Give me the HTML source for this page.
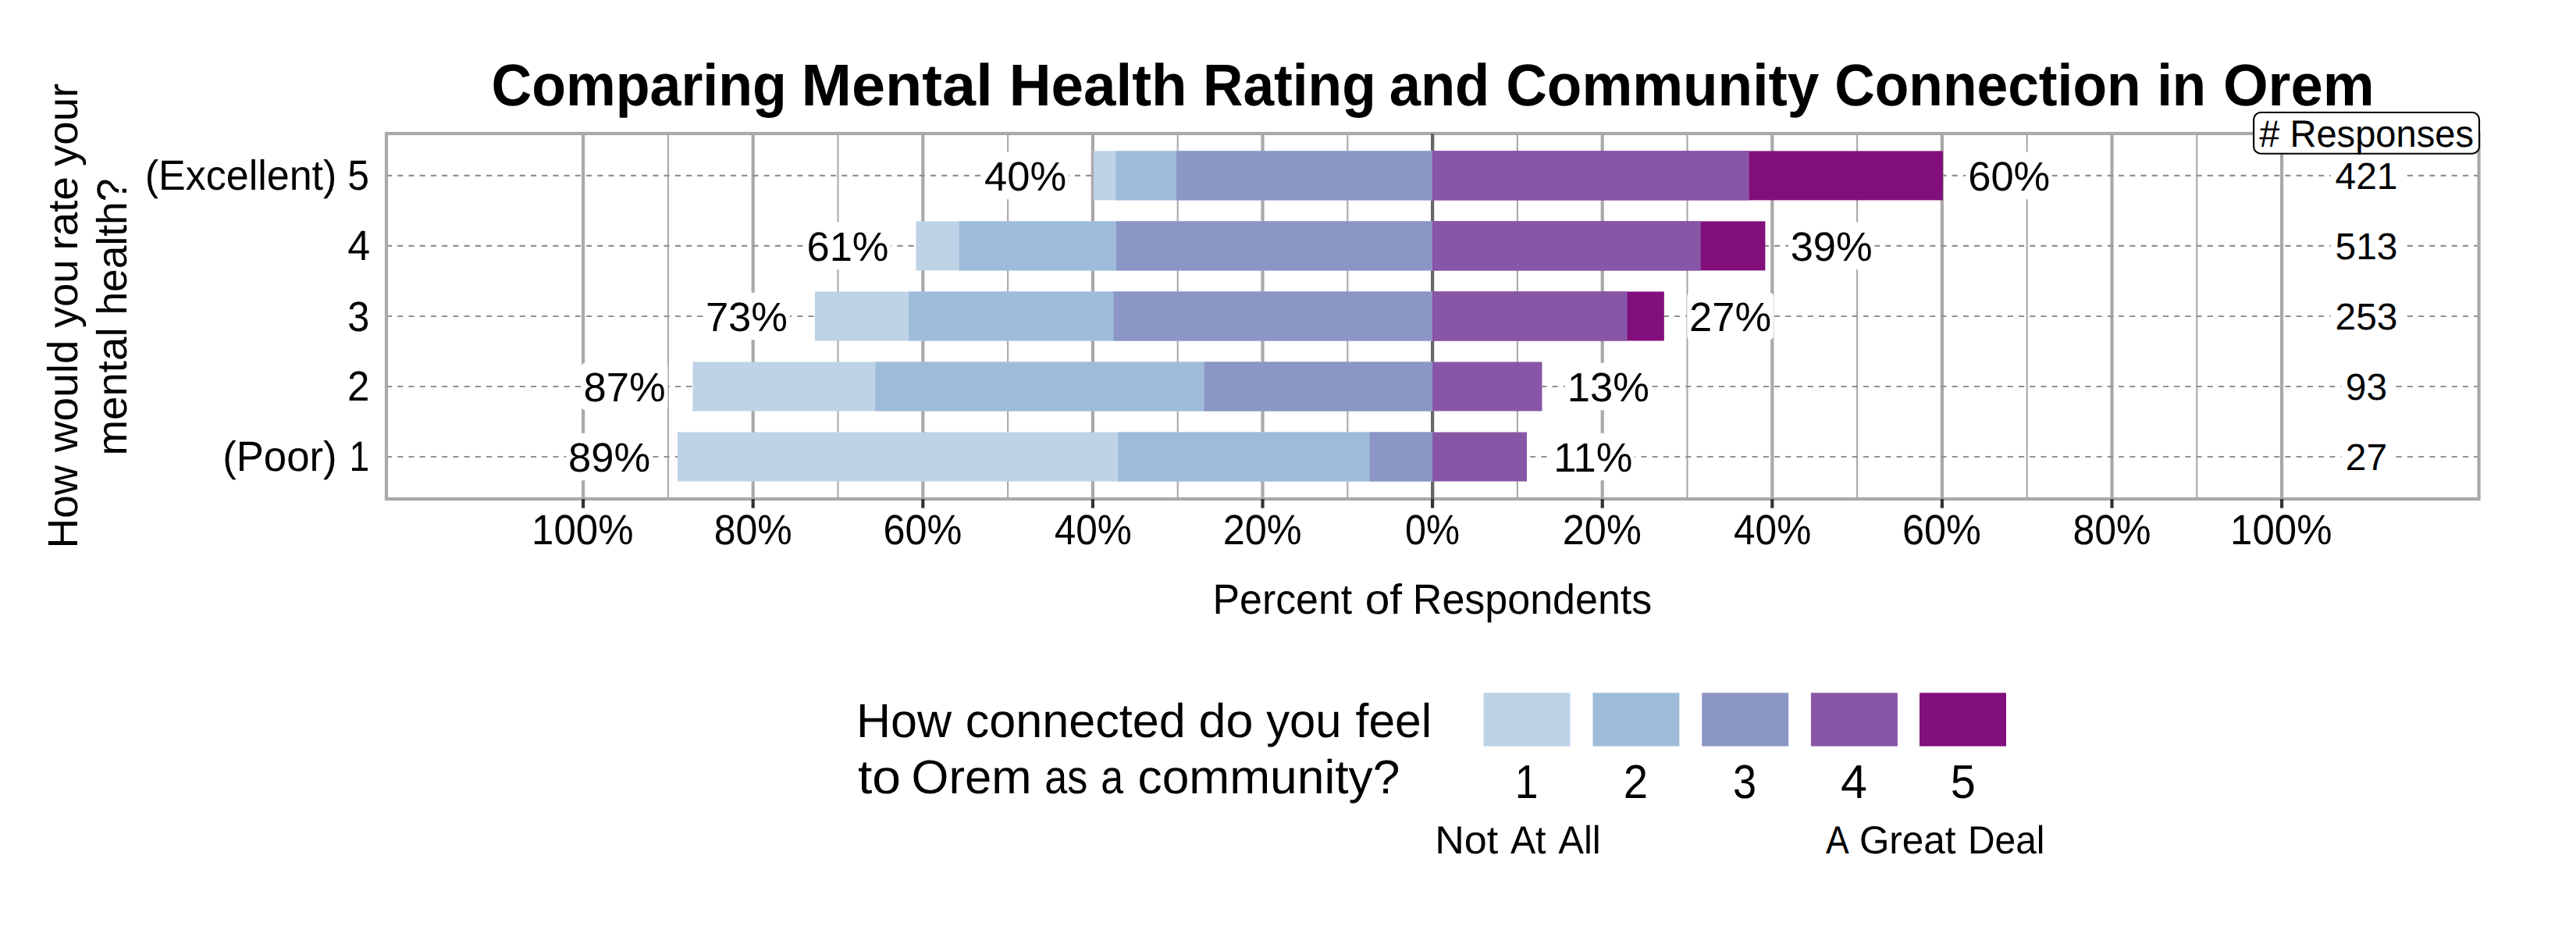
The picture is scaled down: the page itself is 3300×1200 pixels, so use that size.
<!DOCTYPE html>
<html lang="en"><head><meta charset="utf-8"><title>Comparing Mental Health Rating and Community Connection in Orem</title>
<style>html,body{margin:0;padding:0;background:#fff;overflow:hidden}svg{display:block}text{white-space:pre}</style></head>
<body>
<svg width="3300" height="1200" viewBox="0 0 3300 1200">
<rect width="3300" height="1200" fill="#fff"/>
<g><line x1="747.10" x2="747.10" y1="171" y2="639" stroke="#a9a9a9" stroke-width="4.2"/><line x1="855.90" x2="855.90" y1="171" y2="639" stroke="#a9a9a9" stroke-width="2.1"/><line x1="964.70" x2="964.70" y1="171" y2="639" stroke="#a9a9a9" stroke-width="4.2"/><line x1="1073.50" x2="1073.50" y1="171" y2="639" stroke="#a9a9a9" stroke-width="2.1"/><line x1="1182.30" x2="1182.30" y1="171" y2="639" stroke="#a9a9a9" stroke-width="4.2"/><line x1="1291.10" x2="1291.10" y1="171" y2="639" stroke="#a9a9a9" stroke-width="2.1"/><line x1="1399.90" x2="1399.90" y1="171" y2="639" stroke="#a9a9a9" stroke-width="4.2"/><line x1="1508.70" x2="1508.70" y1="171" y2="639" stroke="#a9a9a9" stroke-width="2.1"/><line x1="1617.50" x2="1617.50" y1="171" y2="639" stroke="#a9a9a9" stroke-width="4.2"/><line x1="1726.30" x2="1726.30" y1="171" y2="639" stroke="#a9a9a9" stroke-width="2.1"/><line x1="1943.90" x2="1943.90" y1="171" y2="639" stroke="#a9a9a9" stroke-width="2.1"/><line x1="2052.70" x2="2052.70" y1="171" y2="639" stroke="#a9a9a9" stroke-width="4.2"/><line x1="2161.50" x2="2161.50" y1="171" y2="639" stroke="#a9a9a9" stroke-width="2.1"/><line x1="2270.30" x2="2270.30" y1="171" y2="639" stroke="#a9a9a9" stroke-width="4.2"/><line x1="2379.10" x2="2379.10" y1="171" y2="639" stroke="#a9a9a9" stroke-width="2.1"/><line x1="2487.90" x2="2487.90" y1="171" y2="639" stroke="#a9a9a9" stroke-width="4.2"/><line x1="2596.70" x2="2596.70" y1="171" y2="639" stroke="#a9a9a9" stroke-width="2.1"/><line x1="2705.50" x2="2705.50" y1="171" y2="639" stroke="#a9a9a9" stroke-width="4.2"/><line x1="2814.30" x2="2814.30" y1="171" y2="639" stroke="#a9a9a9" stroke-width="2.1"/><line x1="2923.10" x2="2923.10" y1="171" y2="639" stroke="#a9a9a9" stroke-width="4.2"/></g>
<line x1="495" x2="3175.6" y1="224.9" y2="224.9" stroke="#929292" stroke-width="2.1" stroke-dasharray="7.11 7.1145"/>
<line x1="495" x2="3175.6" y1="314.9" y2="314.9" stroke="#929292" stroke-width="2.1" stroke-dasharray="7.11 7.1145"/>
<line x1="495" x2="3175.6" y1="404.95" y2="404.95" stroke="#929292" stroke-width="2.1" stroke-dasharray="7.11 7.1145"/>
<line x1="495" x2="3175.6" y1="495" y2="495" stroke="#929292" stroke-width="2.1" stroke-dasharray="7.11 7.1145"/>
<line x1="495" x2="3175.6" y1="585" y2="585" stroke="#929292" stroke-width="2.1" stroke-dasharray="7.11 7.1145"/>
<line x1="1835.10" x2="1835.10" y1="171" y2="639" stroke="#666666" stroke-width="4.2"/>
<rect x="1400.93" y="193.4" width="434.57" height="63" fill="#bfd3e6"/>
<rect x="1429.36" y="193.4" width="406.14" height="63" fill="#9ebcda"/>
<rect x="1506.89" y="193.4" width="328.61" height="63" fill="#8c96c6"/>
<rect x="1835.10" y="193.4" width="653.83" height="63" fill="#810f7c"/>
<rect x="1835.10" y="193.4" width="405.74" height="63" fill="#8856a7"/>
<rect x="1173.39" y="283.4" width="662.11" height="63" fill="#bfd3e6"/>
<rect x="1228.53" y="283.4" width="606.97" height="63" fill="#9ebcda"/>
<rect x="1430.02" y="283.4" width="405.48" height="63" fill="#8c96c6"/>
<rect x="1835.10" y="283.4" width="426.29" height="63" fill="#810f7c"/>
<rect x="1835.10" y="283.4" width="343.58" height="63" fill="#8856a7"/>
<rect x="1043.83" y="373.45" width="791.67" height="63" fill="#bfd3e6"/>
<rect x="1164.24" y="373.45" width="671.26" height="63" fill="#9ebcda"/>
<rect x="1426.56" y="373.45" width="408.94" height="63" fill="#8c96c6"/>
<rect x="1835.10" y="373.45" width="296.73" height="63" fill="#810f7c"/>
<rect x="1835.10" y="373.45" width="249.42" height="63" fill="#8856a7"/>
<rect x="887.49" y="463.5" width="948.01" height="63" fill="#bfd3e6"/>
<rect x="1121.47" y="463.5" width="714.03" height="63" fill="#9ebcda"/>
<rect x="1542.63" y="463.5" width="292.87" height="63" fill="#8c96c6"/>
<rect x="1835.10" y="463.5" width="140.39" height="63" fill="#8856a7"/>
<rect x="867.99" y="553.5" width="967.51" height="63" fill="#bfd3e6"/>
<rect x="1432.14" y="553.5" width="403.36" height="63" fill="#9ebcda"/>
<rect x="1754.51" y="553.5" width="80.99" height="63" fill="#8c96c6"/>
<rect x="1835.10" y="553.5" width="120.89" height="63" fill="#8856a7"/>
<rect x="495" y="171" width="2680.6" height="468" fill="none" stroke="#a9a9a9" stroke-width="4.2"/>
<line x1="1835.10" x2="1835.10" y1="171" y2="193" stroke="#666666" stroke-width="4.2"/>
<line x1="1835.10" x2="1835.10" y1="617" y2="639" stroke="#666666" stroke-width="4.2"/>
<line x1="747.10" x2="747.10" y1="639" y2="650.7" stroke="#333333" stroke-width="4.2"/>
<line x1="964.70" x2="964.70" y1="639" y2="650.7" stroke="#333333" stroke-width="4.2"/>
<line x1="1182.30" x2="1182.30" y1="639" y2="650.7" stroke="#333333" stroke-width="4.2"/>
<line x1="1399.90" x2="1399.90" y1="639" y2="650.7" stroke="#333333" stroke-width="4.2"/>
<line x1="1617.50" x2="1617.50" y1="639" y2="650.7" stroke="#333333" stroke-width="4.2"/>
<line x1="1835.10" x2="1835.10" y1="639" y2="650.7" stroke="#333333" stroke-width="4.2"/>
<line x1="2052.70" x2="2052.70" y1="639" y2="650.7" stroke="#333333" stroke-width="4.2"/>
<line x1="2270.30" x2="2270.30" y1="639" y2="650.7" stroke="#333333" stroke-width="4.2"/>
<line x1="2487.90" x2="2487.90" y1="639" y2="650.7" stroke="#333333" stroke-width="4.2"/>
<line x1="2705.50" x2="2705.50" y1="639" y2="650.7" stroke="#333333" stroke-width="4.2"/>
<line x1="2923.10" x2="2923.10" y1="639" y2="650.7" stroke="#333333" stroke-width="4.2"/>
<rect x="2986.02" y="196.90" width="90.95" height="56" rx="5" fill="#fff"/>
<rect x="2986.02" y="286.90" width="90.95" height="56" rx="5" fill="#fff"/>
<rect x="2986.02" y="376.95" width="90.95" height="56" rx="5" fill="#fff"/>
<rect x="2999.35" y="467.00" width="64.30" height="56" rx="5" fill="#fff"/>
<rect x="2999.35" y="557.00" width="64.30" height="56" rx="5" fill="#fff"/>
<rect x="1258.20" y="194.60" width="110.68" height="60.6" rx="5" fill="#fff"/>
<rect x="2518.40" y="194.60" width="110.68" height="60.6" rx="5" fill="#fff"/>
<rect x="1030.65" y="284.60" width="110.68" height="60.6" rx="5" fill="#fff"/>
<rect x="2290.85" y="284.60" width="110.68" height="60.6" rx="5" fill="#fff"/>
<rect x="901.09" y="374.65" width="110.68" height="60.6" rx="5" fill="#fff"/>
<rect x="2161.29" y="374.65" width="110.68" height="60.6" rx="5" fill="#fff"/>
<rect x="744.75" y="464.70" width="110.68" height="60.6" rx="5" fill="#fff"/>
<rect x="2004.95" y="464.70" width="110.68" height="60.6" rx="5" fill="#fff"/>
<rect x="725.25" y="554.70" width="110.68" height="60.6" rx="5" fill="#fff"/>
<rect x="1987.40" y="554.70" width="106.78" height="60.6" rx="5" fill="#fff"/>
<rect x="2887.15" y="144.05" width="288.9" height="52.65" rx="9" fill="#fff" stroke="#000" stroke-width="2.1"/>
<rect x="1900.6" y="887.3" width="111" height="68.4" fill="#bfd3e6"/>
<rect x="2040.4" y="887.3" width="111" height="68.4" fill="#9ebcda"/>
<rect x="2180.2" y="887.3" width="111" height="68.4" fill="#8c96c6"/>
<rect x="2319.9" y="887.3" width="111" height="68.4" fill="#8856a7"/>
<rect x="2459.0" y="887.3" width="111" height="68.4" fill="#810f7c"/>
<g font-family="'Liberation Sans', sans-serif" fill="#000" text-rendering="geometricPrecision"><text font-size="75.5" font-weight="bold" transform="translate(629.46,134.90) scale(0.9497,1)">Comparing </text>
<text font-size="75.5" font-weight="bold" transform="translate(1026.56,134.90) scale(1.0251,1)">Mental </text>
<text font-size="75.5" font-weight="bold" transform="translate(1292.74,134.90) scale(0.9875,1)">Health </text>
<text font-size="75.5" font-weight="bold" transform="translate(1540.95,134.90) scale(0.9440,1)">Rating </text>
<text font-size="75.5" font-weight="bold" transform="translate(1779.67,134.90) scale(0.9585,1)">and </text>
<text font-size="75.5" font-weight="bold" transform="translate(1929.22,134.90) scale(0.9657,1)">Community </text>
<text font-size="75.5" font-weight="bold" transform="translate(2350.17,134.90) scale(0.9452,1)">Connection </text>
<text font-size="75.5" font-weight="bold" transform="translate(2763.17,134.90) scale(0.9382,1)">in </text>
<text font-size="75.5" font-weight="bold" transform="translate(2847.88,134.90) scale(0.9829,1)">Orem</text>
<text font-size="54" transform="translate(185.66,243.30) scale(0.9634,1)">(Excellent) </text>
<text font-size="54" transform="translate(445.15,243.30) scale(0.9214,1)">5</text>
<text font-size="54" transform="translate(445.29,333.20) scale(0.9625,1)">4</text>
<text font-size="54" transform="translate(445.22,423.60) scale(0.9367,1)">3</text>
<text font-size="54" transform="translate(445.01,513.20) scale(0.9442,1)">2</text>
<text font-size="54" transform="translate(285.13,603.30) scale(0.9765,1)">(Poor) </text>
<text font-size="54" transform="translate(447.52,603.30) scale(0.8541,1)">1</text>
<text font-size="54" transform="translate(681.12,697.40) scale(0.9435,1)">100%</text>
<text font-size="54" transform="translate(914.64,697.40) scale(0.9257,1)">80%</text>
<text font-size="54" transform="translate(1131.44,697.40) scale(0.9332,1)">60%</text>
<text font-size="54" transform="translate(1350.63,697.40) scale(0.9183,1)">40%</text>
<text font-size="54" transform="translate(1566.64,697.40) scale(0.9332,1)">20%</text>
<text font-size="54" transform="translate(1800.09,697.40) scale(0.8963,1)">0%</text>
<text font-size="54" transform="translate(2001.84,697.40) scale(0.9332,1)">20%</text>
<text font-size="54" transform="translate(2221.03,697.40) scale(0.9183,1)">40%</text>
<text font-size="54" transform="translate(2437.04,697.40) scale(0.9332,1)">60%</text>
<text font-size="54" transform="translate(2655.44,697.40) scale(0.9257,1)">80%</text>
<text font-size="54" transform="translate(2857.12,697.40) scale(0.9435,1)">100%</text>
<text font-size="54" transform="translate(1553.55,786.00) scale(0.9595,1)">Percent </text>
<text font-size="54" transform="translate(1748.73,786.00) scale(1.0498,1)">of </text>
<text font-size="54" transform="translate(1809.84,786.00) scale(0.9631,1)">Respondents</text>
<text font-size="54" transform="translate(99.40,702.15) rotate(-90) scale(0.9840,1)">How </text>
<text font-size="54" transform="translate(99.40,579.14) rotate(-90) scale(1.0180,1)">would </text>
<text font-size="54" transform="translate(99.40,420.10) rotate(-90) scale(1.0068,1)">you </text>
<text font-size="54" transform="translate(99.40,320.53) rotate(-90) scale(1.0150,1)">rate </text>
<text font-size="54" transform="translate(99.40,213.00) rotate(-90) scale(1.0107,1)">your</text>
<text font-size="54" transform="translate(162.20,583.52) rotate(-90) scale(1.0126,1)">mental </text>
<text font-size="54" transform="translate(162.20,403.53) rotate(-90) scale(0.9870,1)">health?</text>
<text font-size="61" transform="translate(1096.93,944.00) scale(0.9999,1)">How </text>
<text font-size="61" transform="translate(1236.79,944.00) scale(1.0019,1)">connected </text>
<text font-size="61" transform="translate(1535.44,944.00) scale(1.0304,1)">do </text>
<text font-size="61" transform="translate(1622.20,944.00) scale(0.9797,1)">you </text>
<text font-size="61" transform="translate(1736.60,944.00) scale(0.9923,1)">feel</text>
<text font-size="61" transform="translate(1098.90,1015.60) scale(1.0826,1)">to </text>
<text font-size="61" transform="translate(1167.61,1015.60) scale(1.0090,1)">Orem </text>
<text font-size="61" transform="translate(1338.37,1015.60) scale(0.8529,1)">as </text>
<text font-size="61" transform="translate(1410.21,1015.60) scale(0.8500,1)">a </text>
<text font-size="61" transform="translate(1457.55,1015.60) scale(1.0212,1)">community?</text>
<text font-size="60.8" transform="translate(1940.85,1021.80) scale(0.8820,1)">1</text>
<text font-size="60.8" transform="translate(2079.76,1021.80) scale(0.9263,1)">2</text>
<text font-size="60.8" transform="translate(2220.11,1021.80) scale(0.8896,1)">3</text>
<text font-size="60.8" transform="translate(2358.05,1021.80) scale(1.0048,1)">4</text>
<text font-size="60.8" transform="translate(2498.80,1021.80) scale(0.9474,1)">5</text>
<text font-size="50.2" transform="translate(1838.23,1092.80) scale(1.0367,1)">Not </text>
<text font-size="50.2" transform="translate(1934.90,1092.80) scale(0.9621,1)">At </text>
<text font-size="50.2" transform="translate(1996.20,1092.80) scale(0.9775,1)">All</text>
<text font-size="50.2" transform="translate(2338.90,1092.80) scale(0.8865,1)">A </text>
<text font-size="50.2" transform="translate(2381.88,1092.80) scale(0.9849,1)">Great </text>
<text font-size="50.2" transform="translate(2520.96,1092.80) scale(0.9540,1)">Deal</text>
<text font-size="48.6" transform="translate(2894.20,188.10) scale(0.9686,1)"># Responses</text>
<text font-size="47.92" x="2991.52" y="241.70">421</text>
<text font-size="47.92" x="2991.52" y="331.70">513</text>
<text font-size="47.92" x="2991.52" y="421.75">253</text>
<text font-size="47.92" x="3004.85" y="511.80">93</text>
<text font-size="47.92" x="3004.85" y="601.80">27</text>
<text font-size="52.5" x="1261.00" y="243.70">40%</text>
<text font-size="52.5" x="2521.20" y="243.70">60%</text>
<text font-size="52.5" x="1033.45" y="333.70">61%</text>
<text font-size="52.5" x="2293.65" y="333.70">39%</text>
<text font-size="52.5" x="903.89" y="423.75">73%</text>
<text font-size="52.5" x="2164.09" y="423.75">27%</text>
<text font-size="52.5" x="747.55" y="513.80">87%</text>
<text font-size="52.5" x="2007.75" y="513.80">13%</text>
<text font-size="52.5" x="728.05" y="603.80">89%</text>
<text font-size="52.5" x="1990.20" y="603.80">11%</text></g>
</svg>
</body></html>
